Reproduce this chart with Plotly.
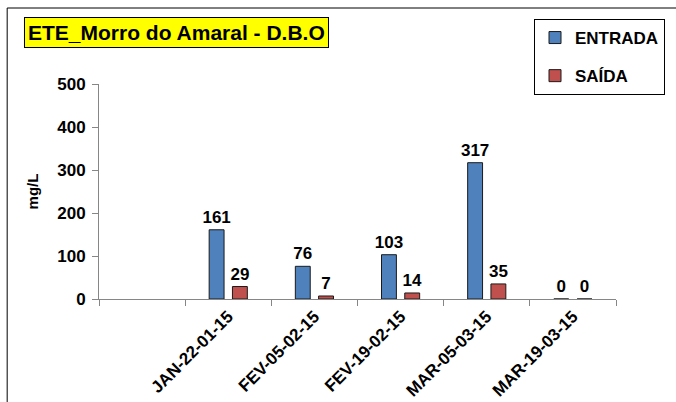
import plotly.graph_objects as go

# Chart data
DATES = ["JAN-22-01-15", "FEV-05-02-15", "FEV-19-02-15", "MAR-05-03-15", "MAR-19-03-15"]
ENTRADA = [161, 76, 103, 317, 0]
SAIDA = [29, 7, 14, 35, 0]

TITLE = "ETE_Morro do Amaral - D.B.O"
Y_TITLE = "mg/L"

BLUE = "#4F81BD"
RED = "#C0504D"
AXIS_GREY = "#868686"
FONT = "Arial, Liberation Sans, sans-serif"

W, H = 676, 402
# plot area in pixels
PL, PR, PT, PB = 99, 617, 84, 299


def px_x(x):
    return (x - PL) / (PR - PL)


def px_y(y):
    return (PB - y) / (PB - PT)


fig = go.Figure()
for name, vals, color in [("ENTRADA", ENTRADA, BLUE), ("SAÍDA", SAIDA, RED)]:
    fig.add_trace(go.Bar(
        x=DATES,
        y=vals,
        name=name,
        legendgroup=name,
        marker=dict(color=color, line=dict(color="#1a1a1a", width=1)),
        text=[str(v) for v in vals],
        textposition="outside",
        cliponaxis=False,
        textfont=dict(family=FONT, size=17, color="black", weight="bold"),
    ))

fig.update_layout(
    width=W,
    height=H,
    margin=dict(l=PL, r=W - PR, t=PT, b=H - PB),
    paper_bgcolor="white",
    plot_bgcolor="white",
    barmode="group",
    bargap=0.46,
    bargroupgap=0.36,
    uniformtext=dict(minsize=17, mode="show"),
    font=dict(family=FONT, size=17, color="black"),
    xaxis=dict(
        categoryorder="array",
        categoryarray=[" "] + DATES,
        range=[-0.5, 5.5],
        tickangle=-45,
        tickson="boundaries",
        ticks="outside",
        ticklen=6,
        tickcolor=AXIS_GREY,
        showline=True,
        linecolor=AXIS_GREY,
        showgrid=False,
        automargin=False,
        tickfont=dict(size=17, weight="bold"),
    ),
    yaxis=dict(
        range=[0, 500],
        dtick=100,
        ticks="outside",
        ticklen=6,
        tickcolor=AXIS_GREY,
        showline=True,
        linecolor=AXIS_GREY,
        showgrid=False,
        zeroline=False,
        automargin=False,
        ticklabelstandoff=3,
        tickfont=dict(size=17, weight="bold"),
        title=dict(text=Y_TITLE, font=dict(size=15, weight="bold"), standoff=14),
    ),
    legend=dict(
        x=px_x(534), y=px_y(19),
        xanchor="left", yanchor="top",
        bordercolor="black", borderwidth=1,
        font=dict(size=17, weight="bold"),
        traceorder="grouped",
        tracegroupgap=13,
        itemwidth=30,
        entrywidth=99,
    ),
    showlegend=True,
)

# yellow title box
fig.add_annotation(
    text=TITLE,
    xref="paper", yref="paper",
    x=px_x(24), y=px_y(17),
    xanchor="left", yanchor="top",
    showarrow=False,
    font=dict(size=21, weight="bold", color="black"),
    bgcolor="#FFFF00",
    bordercolor="black",
    borderwidth=1,
    borderpad=3,
)

# outer chart frame (runs off the right and bottom of the picture)
fig.add_shape(
    type="rect",
    xref="paper", yref="paper",
    x0=px_x(7), y0=px_y(420),
    x1=px_x(700), y1=px_y(8),
    line=dict(color="black", width=1),
    fillcolor="rgba(0,0,0,0)",
    layer="below",
)

# drop the browser's default body margin so the figure sits at 0,0
fig.write_html(
    "out.html",
    config={"displayModeBar": False},
    post_script="document.body.style.margin='0';",
)
